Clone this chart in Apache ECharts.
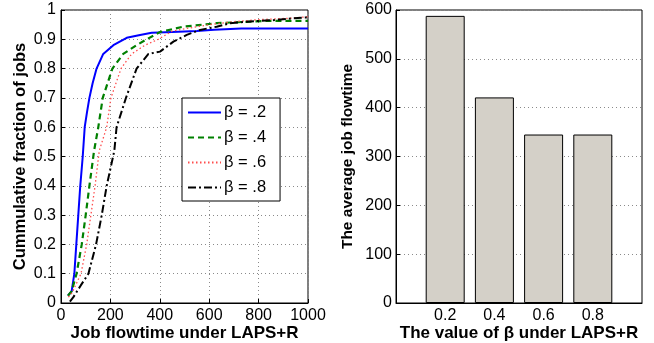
<!DOCTYPE html>
<html>
<head>
<meta charset="utf-8">
<script src="https://cdn.jsdelivr.net/npm/echarts@6/dist/echarts.min.js"></script>
<style>html,body{margin:0;padding:0;background:#fff}#c{width:654px;height:343px}</style>
</head>
<body>
<div id="c"></div>
<script>
// CDF curves (job flowtime vs cumulative fraction)
var beta2X = [28, 43, 54, 62, 70, 78, 88, 96, 105, 115, 128, 144, 171, 212, 266, 320, 367, 450, 550, 620, 730, 1000];
var beta2Y = [0.025, 0.04, 0.1, 0.2, 0.3, 0.4, 0.5, 0.6, 0.65, 0.7, 0.75, 0.8, 0.85, 0.88, 0.905, 0.915, 0.922, 0.925, 0.928, 0.933, 0.937, 0.937];
var beta4X = [28, 43, 63, 84, 100, 115, 134, 151, 169, 208, 252, 306, 347, 401, 495, 630, 833, 1000];
var beta4Y = [0.025, 0.04, 0.1, 0.2, 0.3, 0.4, 0.52, 0.6, 0.7, 0.8, 0.85, 0.88, 0.9, 0.925, 0.943, 0.955, 0.963, 0.963];
var beta6X = [30, 45, 81, 104, 121, 138, 155, 185, 202, 243, 286, 340, 394, 450, 509, 600, 697, 800, 927, 1000];
var beta6Y = [0.02, 0.035, 0.1, 0.2, 0.3, 0.4, 0.52, 0.6, 0.7, 0.8, 0.85, 0.88, 0.9, 0.928, 0.937, 0.95, 0.96, 0.967, 0.972, 0.977];
var beta8X = [36, 50, 80, 111, 142, 165, 185, 216, 225, 263, 306, 354, 401, 455, 509, 563, 630, 684, 752, 873, 940, 1000];
var beta8Y = [0.005, 0.02, 0.06, 0.1, 0.2, 0.3, 0.4, 0.52, 0.6, 0.7, 0.8, 0.85, 0.858, 0.892, 0.915, 0.932, 0.943, 0.955, 0.96, 0.966, 0.972, 0.975];
var seriesNames = ['\u03b2 = .2', '\u03b2 = .4', '\u03b2 = .6', '\u03b2 = .8'];
// Bar chart
var betaValues = [0.2, 0.4, 0.6, 0.8];
var avgFlowtime = [588, 421, 345, 345];

function pairs(xs, ys) { return xs.map(function (x, i) { return [x, ys[i]]; }); }

var FONT = 'Liberation Sans, Arial, Helvetica, sans-serif';
var gridLine = { show: true, lineStyle: { color: '#8a8a8a', type: [1, 3], width: 1 } };
var axisLine = { show: true, lineStyle: { color: '#000', width: 1 } };
var tick = { show: true, inside: true, length: 4, lineStyle: { color: '#000' } };
var lbl = { color: '#000', fontSize: 16, fontFamily: FONT };
function nameStyle(size) { return { color: '#000', fontSize: size, fontWeight: 'bold', fontFamily: FONT }; }

var styles = [
  { color: '#0000ff', type: 'solid', width: 2 },
  { color: '#008000', type: [6, 4], width: 2.2 },
  { color: '#ff4d4d', type: [1.5, 2.5], width: 1.3 },
  { color: '#000000', type: [8, 3, 2, 3], width: 2 }
];
var curveData = [pairs(beta2X, beta2Y), pairs(beta4X, beta4Y), pairs(beta6X, beta6Y), pairs(beta8X, beta8Y)];

var series = curveData.map(function (d, i) {
  return {
    name: seriesNames[i], type: 'line', xAxisIndex: 0, yAxisIndex: 0,
    data: d, showSymbol: false, symbol: 'none', smooth: false,
    lineStyle: styles[i], itemStyle: { color: styles[i].color }, z: 3
  };
});
series.push({
  type: 'bar', xAxisIndex: 1, yAxisIndex: 1,
  data: betaValues.map(function (b, i) { return [b, avgFlowtime[i]]; }),
  barWidth: 39,
  itemStyle: { color: '#d4d0c8', borderColor: '#000', borderWidth: 1 }
});

var chart = echarts.init(document.getElementById('c'), null, { renderer: 'canvas' });
chart.setOption({
  animation: false,
  backgroundColor: '#fff',
  textStyle: { fontFamily: FONT },
  grid: [
    { left: 61, top: 10, right: 346, bottom: 40, outerBoundsMode: 'none', containLabel: false,
      show: true, borderColor: '#000', borderWidth: 1, backgroundColor: 'transparent' },
    { left: 396, top: 10, right: 12, bottom: 40, outerBoundsMode: 'none', containLabel: false,
      show: true, borderColor: '#000', borderWidth: 1, backgroundColor: 'transparent' }
  ],
  legend: {
    data: seriesNames, orient: 'vertical', left: 182, top: 98,
    backgroundColor: '#fff', borderColor: '#000', borderWidth: 1,
    padding: [6, 14, 5, 5], itemWidth: 33, itemHeight: 16, itemGap: 8,
    itemStyle: { opacity: 0 },
    textStyle: { color: '#000', fontSize: 16.5, fontFamily: FONT, padding: [0, 0, 0, -2] }
  },
  xAxis: [
    { gridIndex: 0, type: 'value', min: 0, max: 1000, interval: 200,
      name: 'Job flowtime under LAPS+R', nameLocation: 'middle', nameGap: 22, nameMoveOverlap: false,
      nameTextStyle: nameStyle(17),
      axisLine: axisLine, axisTick: tick,
      axisLabel: Object.assign({ margin: 5, formatter: function (v) { return String(v); } }, lbl),
      splitLine: gridLine },
    { gridIndex: 1, type: 'value', min: 0, max: 1, interval: 0.2,
      name: 'The value of \u03b2 under LAPS+R', nameLocation: 'middle', nameGap: 22, nameMoveOverlap: false,
      nameTextStyle: nameStyle(17),
      axisLine: axisLine, axisTick: { show: false },
      axisLabel: Object.assign({ margin: 5,
        formatter: function (v) { return (v > 0.01 && v < 0.99) ? v.toFixed(1) : ''; } }, lbl),
      splitLine: { show: false } }
  ],
  yAxis: [
    { gridIndex: 0, type: 'value', min: 0, max: 1, interval: 0.1,
      name: 'Cummulative fraction of jobs', nameLocation: 'middle', nameGap: 32, nameMoveOverlap: false,
      nameTextStyle: nameStyle(16.5),
      axisLine: axisLine, axisTick: tick,
      axisLabel: Object.assign({ margin: 5, formatter: function (v) { return v === 0 ? '0' : (v === 1 ? '1' : v.toFixed(1)); } }, lbl),
      splitLine: gridLine },
    { gridIndex: 1, type: 'value', min: 0, max: 600, interval: 100,
      name: 'The average job flowtime', nameLocation: 'middle', nameGap: 40, nameMoveOverlap: false,
      nameTextStyle: nameStyle(15.5),
      axisLine: axisLine, axisTick: tick, axisLabel: Object.assign({ margin: 4 }, lbl),
      splitLine: gridLine }
  ],
  series: series
});
</script>
</body>
</html>
